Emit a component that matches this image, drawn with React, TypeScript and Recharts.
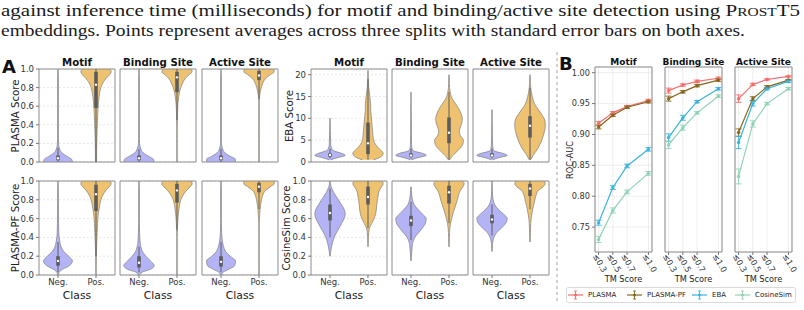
import React from 'react';
import {
  ComposedChart,
  Area,
  XAxis,
  YAxis,
  CartesianGrid,
  ReferenceLine,
  ReferenceDot,
  ReferenceArea,
  LineChart,
  Line,
  ErrorBar,
} from 'recharts';

// ---------- shared look ----------
const FONT = '"DejaVu Sans", sans-serif';
const SERIF = 'Liberation Serif';
const NEG_FILL = '#b3b3f5';
const POS_FILL = '#eec271';
const EDGE = '#7d7d7d';
const BOX = '#5c5c5c';
const FRAME = '#8c8c8c';
const TICK_TEXT = '#333';

// ---------- panel A: violin profiles (half-widths, category spacing = 1) ----------
const CLASS_LABELS = ['Neg.', 'Pos.'];
const TASKS = ['Motif', 'Binding Site', 'Active Site'];

const SCORE_LEVELS = [0, 0.03, 0.06, 0.1, 0.15, 0.2, 0.25, 0.3, 0.35, 0.4, 0.45, 0.5, 0.55, 0.6, 0.65, 0.7, 0.75, 0.8, 0.85, 0.9, 0.94, 0.97, 1.0];
const SCORE_TICKS = [0, 0.2, 0.4, 0.6, 0.8, 1.0];
const EBA_LEVELS = [0, 0.5, 1, 1.5, 2, 2.5, 3, 4, 5, 6, 7, 8, 9, 10, 11, 12, 13, 14, 15, 16, 17, 18, 19, 20, 21];
const EBA_TICKS = [0, 5, 10, 15, 20];

const PLASMA_MOTIF_NEG = [0.38, 0.36, 0.24, 0.1, 0.035, 0.015, 0.012, 0.01, 0.01, 0.01, 0.01, 0.01, 0.01, 0.01, 0.01, 0.01, 0.01, 0.01, 0.01, 0.01, 0.008, 0.006, 0.004];
const PLASMA_MOTIF_POS = [0.012, 0.015, 0.015, 0.015, 0.018, 0.02, 0.022, 0.025, 0.03, 0.035, 0.04, 0.045, 0.05, 0.06, 0.07, 0.08, 0.1, 0.13, 0.18, 0.27, 0.36, 0.4, 0.36];
const PLASMA_BIND_NEG = [0.4, 0.38, 0.26, 0.11, 0.04, 0.015, 0.01, 0.01, 0.01, 0.01, 0.01, 0.01, 0.01, 0.01, 0.01, 0.01, 0.01, 0.01, 0.01, 0.01, 0.008, 0.006, 0.004];
const PLASMA_BIND_POS = [0.006, 0.006, 0.006, 0.006, 0.006, 0.006, 0.006, 0.006, 0.006, 0.008, 0.01, 0.012, 0.015, 0.02, 0.03, 0.045, 0.065, 0.1, 0.15, 0.22, 0.32, 0.4, 0.37];
const PLASMA_ACT_NEG = [0.38, 0.38, 0.25, 0.1, 0.035, 0.012, 0.01, 0.01, 0.01, 0.01, 0.01, 0.01, 0.01, 0.01, 0.01, 0.01, 0.01, 0.01, 0.01, 0.01, 0.008, 0.006, 0.004];
const PLASMA_ACT_POS = [0.006, 0.006, 0.006, 0.006, 0.006, 0.006, 0.006, 0.006, 0.006, 0.006, 0.006, 0.006, 0.006, 0.006, 0.006, 0.012, 0.03, 0.06, 0.1, 0.18, 0.3, 0.4, 0.38];

const PF_MOTIF_NEG = [0.008, 0.03, 0.12, 0.3, 0.38, 0.28, 0.15, 0.08, 0.05, 0.03, 0.022, 0.018, 0.015, 0.013, 0.012, 0.012, 0.011, 0.01, 0.01, 0.01, 0.008, 0.006, 0.004];
const PF_MOTIF_POS = [0.005, 0.006, 0.006, 0.007, 0.008, 0.01, 0.012, 0.015, 0.02, 0.025, 0.03, 0.035, 0.04, 0.05, 0.06, 0.08, 0.1, 0.13, 0.18, 0.26, 0.35, 0.4, 0.37];
const PF_BIND_NEG = [0.01, 0.08, 0.3, 0.4, 0.3, 0.18, 0.09, 0.05, 0.03, 0.02, 0.015, 0.012, 0.01, 0.01, 0.01, 0.01, 0.01, 0.01, 0.01, 0.01, 0.008, 0.006, 0.004];
const PF_BIND_POS = [0.005, 0.005, 0.005, 0.005, 0.005, 0.005, 0.005, 0.005, 0.005, 0.005, 0.008, 0.012, 0.018, 0.025, 0.035, 0.05, 0.07, 0.1, 0.16, 0.25, 0.35, 0.4, 0.38];
const PF_ACT_NEG = [0.01, 0.06, 0.2, 0.36, 0.38, 0.24, 0.12, 0.07, 0.04, 0.025, 0.018, 0.014, 0.01, 0.01, 0.01, 0.01, 0.01, 0.01, 0.01, 0.01, 0.008, 0.006, 0.004];
const PF_ACT_POS = [0.005, 0.005, 0.005, 0.005, 0.005, 0.005, 0.005, 0.005, 0.005, 0.005, 0.005, 0.005, 0.005, 0.012, 0.02, 0.03, 0.045, 0.065, 0.1, 0.17, 0.3, 0.4, 0.4];

const COS_MOTIF_NEG = [null, null, null, null, null, 0.005, 0.02, 0.04, 0.07, 0.11, 0.17, 0.24, 0.31, 0.37, 0.4, 0.37, 0.3, 0.22, 0.14, 0.07, 0.03, 0.012, 0.004];
const COS_MOTIF_POS = [null, null, null, null, null, null, null, 0.005, 0.008, 0.012, 0.02, 0.04, 0.1, 0.16, 0.2, 0.22, 0.23, 0.25, 0.27, 0.3, 0.36, 0.4, 0.37];
const COS_BIND_NEG = [null, null, null, null, 0.005, 0.01, 0.02, 0.03, 0.05, 0.1, 0.2, 0.3, 0.38, 0.4, 0.3, 0.18, 0.08, 0.04, 0.02, 0.01, 0.005, null, null];
const COS_BIND_POS = [null, null, null, null, null, null, null, 0.005, 0.008, 0.01, 0.015, 0.022, 0.04, 0.07, 0.1, 0.14, 0.18, 0.22, 0.25, 0.3, 0.37, 0.4, 0.36];
const COS_ACT_NEG = [null, null, null, null, null, null, 0.005, 0.01, 0.02, 0.05, 0.12, 0.25, 0.36, 0.4, 0.3, 0.16, 0.07, 0.03, 0.015, 0.01, 0.008, 0.006, 0.004];
const COS_ACT_POS = [null, null, null, null, null, null, null, null, 0.005, 0.008, 0.01, 0.015, 0.02, 0.03, 0.05, 0.07, 0.1, 0.13, 0.16, 0.22, 0.35, 0.4, 0.37];

const EBA_MOTIF_NEG = [null, 0.02, 0.2, 0.4, 0.3, 0.12, 0.05, 0.02, 0.015, 0.012, 0.01, 0.008, 0.006, 0.004, null, null, null, null, null, null, null, null, null, null, null];
const EBA_MOTIF_POS = [null, 0.15, 0.3, 0.38, 0.4, 0.36, 0.3, 0.2, 0.15, 0.13, 0.12, 0.11, 0.1, 0.09, 0.08, 0.07, 0.07, 0.06, 0.05, 0.035, 0.02, 0.012, 0.008, 0.005, 0.003];
const EBA_BIND_NEG = [null, 0.02, 0.18, 0.4, 0.3, 0.08, 0.03, 0.015, 0.012, 0.011, 0.01, 0.01, 0.009, 0.008, 0.007, 0.006, 0.005, 0.004, 0.004, 0.003, null, null, null, null, null];
const EBA_BIND_POS = [null, 0.02, 0.06, 0.1, 0.16, 0.22, 0.28, 0.36, 0.38, 0.3, 0.27, 0.3, 0.34, 0.35, 0.32, 0.27, 0.2, 0.12, 0.06, 0.03, 0.015, 0.01, 0.006, 0.003, null];
const EBA_ACT_NEG = [null, 0.02, 0.18, 0.4, 0.28, 0.07, 0.03, 0.015, 0.012, 0.01, 0.009, 0.008, 0.007, 0.006, 0.005, 0.004, null, null, null, null, null, null, null, null, null];
const EBA_ACT_POS = [null, 0.02, 0.05, 0.08, 0.12, 0.16, 0.2, 0.26, 0.31, 0.35, 0.38, 0.4, 0.4, 0.37, 0.3, 0.22, 0.14, 0.09, 0.06, 0.035, 0.02, 0.012, 0.008, 0.004, null];

// box inner: [whisker low, q1, median, q3, whisker high]
const PLASMA_BOX_NEG = [[0, 0.02, 0.04, 0.07, 0.15], [0, 0.02, 0.04, 0.07, 0.14], [0, 0.02, 0.04, 0.07, 0.14]];
const PLASMA_BOX_POS = [[0, 0.58, 0.83, 0.97, 1.0], [0.45, 0.75, 0.91, 0.97, 1.0], [0.68, 0.88, 0.93, 0.98, 1.0]];
const PF_BOX_NEG = [[0.03, 0.1, 0.15, 0.2, 0.35], [0.03, 0.08, 0.13, 0.2, 0.3], [0.03, 0.09, 0.14, 0.2, 0.35]];
const PF_BOX_POS = [[0.2, 0.68, 0.86, 0.96, 1.0], [0.48, 0.77, 0.9, 0.97, 1.0], [0.7, 0.88, 0.94, 0.98, 1.0]];
const COS_BOX_NEG = [[0.4, 0.58, 0.66, 0.75, 0.92], [0.37, 0.52, 0.58, 0.63, 0.78], [0.42, 0.55, 0.59, 0.64, 0.75]];
const COS_BOX_POS = [[0.5, 0.75, 0.83, 0.94, 1.0], [0.55, 0.76, 0.88, 0.95, 1.0], [0.7, 0.84, 0.92, 0.97, 1.0]];
const EBA_BOX_NEG = [[0.8, 1.2, 1.6, 2.0, 3.0], [0.8, 1.2, 1.5, 2.0, 3.0], [0.8, 1.2, 1.5, 2.0, 3.0]];
const EBA_BOX_POS = [[0.5, 1.8, 4.3, 9.0, 19], [0.5, 4.3, 6.7, 10.2, 16], [0.5, 5.6, 8.3, 10.5, 17]];

// ---------- panel B: ROC-AUC vs TM-score threshold ----------
const TM_THRESHOLDS = [0.3, 0.5, 0.7, 1.0];
const AUC_TICKS = [0.75, 0.8, 0.85, 0.9, 0.95, 1.0];

const MOTIF_PLASMA = [0.918, 0.935, 0.945, 0.955];
const MOTIF_PF = [0.912, 0.931, 0.944, 0.953];
const MOTIF_EBA = [0.757, 0.814, 0.849, 0.876];
const MOTIF_COS = [0.73, 0.777, 0.807, 0.837];
const BIND_PLASMA = [0.971, 0.98, 0.986, 0.991];
const BIND_PF = [0.958, 0.969, 0.979, 0.988];
const BIND_EBA = [0.895, 0.927, 0.953, 0.974];
const BIND_COS = [0.883, 0.911, 0.935, 0.962];
const ACT_PLASMA = [0.958, 0.981, 0.989, 0.994];
const ACT_PF = [0.903, 0.958, 0.977, 0.988];
const ACT_EBA = [0.887, 0.95, 0.974, 0.986];
const ACT_COS = [0.832, 0.917, 0.95, 0.974];

const MOTIF_ERR = [[0.003, 0.002, 0.002, 0.002], [0.003, 0.002, 0.002, 0.002], [0.004, 0.003, 0.003, 0.003], [0.005, 0.004, 0.003, 0.003]];
const BIND_ERR = [[0.004, 0.002, 0.002, 0.002], [0.004, 0.002, 0.002, 0.002], [0.006, 0.004, 0.002, 0.002], [0.006, 0.004, 0.002, 0.002]];
const ACT_ERR = [[0.006, 0.002, 0.001, 0.001], [0.006, 0.003, 0.002, 0.001], [0.01, 0.004, 0.002, 0.002], [0.012, 0.005, 0.002, 0.002]];

const METHODS = [
  { key: 'plasma', name: 'PLASMA', color: '#f96b6b' },
  { key: 'pf', name: 'PLASMA-PF', color: '#86681c' },
  { key: 'eba', name: 'EBA', color: '#3bb3db' },
  { key: 'cos', name: 'CosineSim', color: '#8fd3b5' },
];

function aucRows(series: number[][], errs: number[][]) {
  return TM_THRESHOLDS.map((tm, i) => {
    const row: Record<string, number> = { tm };
    METHODS.forEach((m, k) => {
      row[m.key] = series[k][i];
      row[m.key + 'Err'] = errs[k][i];
    });
    return row;
  });
}

const AUC_ROWS = [
  aucRows([MOTIF_PLASMA, MOTIF_PF, MOTIF_EBA, MOTIF_COS], MOTIF_ERR),
  aucRows([BIND_PLASMA, BIND_PF, BIND_EBA, BIND_COS], BIND_ERR),
  aucRows([ACT_PLASMA, ACT_PF, ACT_EBA, ACT_COS], ACT_ERR),
];

// ---------- layout ----------
const A_LEFT_X = [39, 120, 202];
const A_MID_X = [311, 392, 473];
const A_W = 76;
const A_TOP_Y = 69;
const A_TOP_H = 93;
const A_BOT_Y = 181;
const A_BOT_H = 94;
const B_X = [595, 665, 735];
const B_W = 57;
const B_Y = 67;
const B_H = 185;
const PAD = 6;
const B_RIGHT = 12;

type ViolinProps = {
  left: number;
  top: number;
  width: number;
  height: number;
  levels: number[];
  neg: (number | null)[];
  pos: (number | null)[];
  negBox: number[];
  posBox: number[];
  domain: [number, number];
  ticks: number[];
  yLabels: boolean;
  xLabels: boolean;
  fmt: (v: number) => string;
};

// symmetric band around a class position; absent levels break the outline
const band = (c: number, w: number | null) => (w == null ? [null, null] : [c - w, c + w]);

function ViolinCell(p: ViolinProps) {
  const yW = p.yLabels ? 30 : 4;
  const xH = p.xLabels ? 16 : 4;
  const rows = p.levels.map((y, i) => ({ y, neg: p.neg[i], pos: p.pos[i] }));
  const inner = (x: number, s: number[], k: string) => [
    <ReferenceLine key={k + 'w'} segment={[{ x, y: s[0] }, { x, y: s[4] }]} stroke={BOX} strokeWidth={1} />,
    <ReferenceLine key={k + 'b'} segment={[{ x, y: s[1] }, { x, y: s[3] }]} stroke={BOX} strokeWidth={3.6} />,
    <ReferenceDot key={k + 'm'} x={x} y={s[2]} r={1.2} fill="#ffffff" stroke="none" />,
  ];
  return (
    <div style={{ position: 'absolute', left: p.left - yW, top: p.top - PAD }}>
      <ComposedChart
        layout="vertical"
        width={yW + p.width + 2}
        height={p.height + xH + PAD}
        data={rows}
        margin={{ top: PAD, right: 2, bottom: 0, left: 0 }}
      >
        <CartesianGrid vertical={false} stroke="#dcdcdc" strokeDasharray="2 2" strokeWidth={0.7} />
        <XAxis
          type="number"
          domain={[-0.5, 1.5]}
          ticks={[0, 1]}
          allowDataOverflow
          height={xH}
          axisLine={false}
          tickSize={3}
          tickMargin={1}
          tickLine={{ stroke: '#777' }}
          tick={p.xLabels ? { fontSize: 8.5, fill: TICK_TEXT, fontFamily: FONT } : false}
          tickFormatter={(v: number) => CLASS_LABELS[v]}
          interval={0}
        />
        <YAxis
          type="number"
          dataKey="y"
          domain={p.domain}
          ticks={p.ticks}
          reversed
          allowDataOverflow
          width={yW}
          axisLine={false}
          tickSize={3}
          tickMargin={2}
          tickLine={{ stroke: '#777' }}
          tick={p.yLabels ? { fontSize: 8.5, fill: TICK_TEXT, fontFamily: FONT } : false}
          tickFormatter={p.fmt}
          interval={0}
        />
        <Area
          dataKey={(r: any) => band(0, r.neg)}
          type="monotone"
          fill={NEG_FILL}
          fillOpacity={1}
          stroke={EDGE}
          strokeWidth={0.7}
          isAnimationActive={false}
          activeDot={false}
          dot={false}
        />
        <Area
          dataKey={(r: any) => band(1, r.pos)}
          type="monotone"
          fill={POS_FILL}
          fillOpacity={1}
          stroke={EDGE}
          strokeWidth={0.7}
          isAnimationActive={false}
          activeDot={false}
          dot={false}
        />
        {inner(0, p.negBox, 'n')}
        {inner(1, p.posBox, 'p')}
        <ReferenceArea
          x1={-0.5}
          x2={1.5}
          y1={p.domain[0]}
          y2={p.domain[1]}
          fill="none"
          fillOpacity={0}
          stroke={FRAME}
          strokeWidth={1}
          ifOverflow="visible"
        />
      </ComposedChart>
    </div>
  );
}

function TmTick(props: any) {
  const { x, y, payload } = props;
  return (
    <text
      transform={`translate(${x + 1.5},${y + 6}) rotate(60)`}
      textAnchor="middle"
      dominantBaseline="central"
      fontSize={8.2}
      fill={TICK_TEXT}
      fontFamily={FONT}
    >
      {'\u2264' + Number(payload.value).toFixed(1)}
    </text>
  );
}

function AucCell({ left, rows, yLabels }: { left: number; rows: any[]; yLabels: boolean }) {
  const yW = yLabels ? 30 : 4;
  const xH = 26;
  return (
    <div style={{ position: 'absolute', left: left - yW, top: B_Y - PAD }}>
      <LineChart
        width={yW + B_W + B_RIGHT}
        height={B_H + xH + PAD}
        data={rows}
        margin={{ top: PAD, right: B_RIGHT, bottom: 0, left: 0 }}
      >
        <CartesianGrid stroke="#e6e6e6" strokeWidth={0.7} />
        <XAxis
          type="number"
          dataKey="tm"
          domain={[0.25, 1.05]}
          ticks={TM_THRESHOLDS}
          allowDataOverflow
          height={xH}
          axisLine={false}
          tickSize={3}
          tickLine={{ stroke: '#777' }}
          tick={<TmTick />}
          interval={0}
        />
        <YAxis
          type="number"
          domain={[0.7097, 1.0092]}
          ticks={AUC_TICKS}
          allowDataOverflow
          width={yW}
          axisLine={false}
          tickSize={3}
          tickMargin={2}
          tickLine={{ stroke: '#777' }}
          tick={yLabels ? { fontSize: 8.2, fill: TICK_TEXT, fontFamily: FONT } : false}
          tickFormatter={(v: number) => v.toFixed(2)}
          interval={0}
        />
        {METHODS.map((m) => (
          <Line
            key={m.key}
            dataKey={m.key}
            stroke={m.color}
            strokeWidth={1.2}
            dot={{ r: 1.5, fill: m.color, stroke: m.color, strokeWidth: 0.5 }}
            activeDot={false}
            isAnimationActive={false}
          >
            <ErrorBar dataKey={m.key + 'Err'} width={3} stroke={m.color} strokeWidth={0.9} direction="y" />
          </Line>
        ))}
        <ReferenceArea
          x1={0.25}
          x2={1.05}
          y1={0.7097}
          y2={1.0092}
          fill="none"
          fillOpacity={0}
          stroke={FRAME}
          strokeWidth={1}
          ifOverflow="visible"
        />
      </LineChart>
    </div>
  );
}

const scoreFmt = (v: number) => v.toFixed(1);
const ebaFmt = (v: number) => String(v);

const LEFT_TOP = [
  [PLASMA_MOTIF_NEG, PLASMA_MOTIF_POS],
  [PLASMA_BIND_NEG, PLASMA_BIND_POS],
  [PLASMA_ACT_NEG, PLASMA_ACT_POS],
];
const LEFT_BOT = [
  [PF_MOTIF_NEG, PF_MOTIF_POS],
  [PF_BIND_NEG, PF_BIND_POS],
  [PF_ACT_NEG, PF_ACT_POS],
];
const MID_TOP = [
  [EBA_MOTIF_NEG, EBA_MOTIF_POS],
  [EBA_BIND_NEG, EBA_BIND_POS],
  [EBA_ACT_NEG, EBA_ACT_POS],
];
const MID_BOT = [
  [COS_MOTIF_NEG, COS_MOTIF_POS],
  [COS_BIND_NEG, COS_BIND_POS],
  [COS_ACT_NEG, COS_ACT_POS],
];

function Legend() {
  const items = [
    { x: 568, t: 588 },
    { x: 627, t: 647 },
    { x: 692, t: 712 },
    { x: 735, t: 755 },
  ];
  return (
    <g>
      <rect x={566.5} y={287.5} width={229} height={15} rx={2} fill="#fff" stroke="#d0d0d0" strokeWidth={0.8} />
      {METHODS.map((m, i) => (
        <g key={m.key}>
          <line x1={items[i].x} x2={items[i].x + 15} y1={295} y2={295} stroke={m.color} strokeWidth={1.2} />
          <line x1={items[i].x + 7.5} x2={items[i].x + 7.5} y1={291} y2={299} stroke={m.color} strokeWidth={0.9} />
          <line x1={items[i].x + 6} x2={items[i].x + 9} y1={291} y2={291} stroke={m.color} strokeWidth={0.9} />
          <line x1={items[i].x + 6} x2={items[i].x + 9} y1={299} y2={299} stroke={m.color} strokeWidth={0.9} />
          <circle cx={items[i].x + 7.5} cy={295} r={1.5} fill={m.color} />
          <text x={items[i].t} y={295} dominantBaseline="central" fontSize={7} fill="#222" fontFamily={FONT}>
            {m.name}
          </text>
        </g>
      ))}
    </g>
  );
}

export default function App() {
  return (
    <div style={{ position: 'absolute', left: 0, top: 0, width: 804, height: 310, background: '#fff', overflow: 'hidden' }}>
      {LEFT_TOP.map((v, i) => (
        <ViolinCell key={'lt' + i} left={A_LEFT_X[i]} top={A_TOP_Y} width={A_W} height={A_TOP_H} levels={SCORE_LEVELS}
          neg={v[0]} pos={v[1]} negBox={PLASMA_BOX_NEG[i]} posBox={PLASMA_BOX_POS[i]} domain={[0, 1]} ticks={SCORE_TICKS}
          yLabels={i === 0} xLabels={false} fmt={scoreFmt} />
      ))}
      {LEFT_BOT.map((v, i) => (
        <ViolinCell key={'lb' + i} left={A_LEFT_X[i]} top={A_BOT_Y} width={A_W} height={A_BOT_H} levels={SCORE_LEVELS}
          neg={v[0]} pos={v[1]} negBox={PF_BOX_NEG[i]} posBox={PF_BOX_POS[i]} domain={[0, 1]} ticks={SCORE_TICKS}
          yLabels={i === 0} xLabels fmt={scoreFmt} />
      ))}
      {MID_TOP.map((v, i) => (
        <ViolinCell key={'mt' + i} left={A_MID_X[i]} top={A_TOP_Y} width={A_W} height={A_TOP_H} levels={EBA_LEVELS}
          neg={v[0]} pos={v[1]} negBox={EBA_BOX_NEG[i]} posBox={EBA_BOX_POS[i]} domain={[0, 21.3]} ticks={EBA_TICKS}
          yLabels={i === 0} xLabels={false} fmt={ebaFmt} />
      ))}
      {MID_BOT.map((v, i) => (
        <ViolinCell key={'mb' + i} left={A_MID_X[i]} top={A_BOT_Y} width={A_W} height={A_BOT_H} levels={SCORE_LEVELS}
          neg={v[0]} pos={v[1]} negBox={COS_BOX_NEG[i]} posBox={COS_BOX_POS[i]} domain={[0, 1]} ticks={SCORE_TICKS}
          yLabels={i === 0} xLabels fmt={scoreFmt} />
      ))}
      {AUC_ROWS.map((rows, i) => (
        <AucCell key={'b' + i} left={B_X[i]} rows={rows} yLabels={i === 0} />
      ))}

      <svg width={804} height={310} style={{ position: 'absolute', left: 0, top: 0, pointerEvents: 'none' }}>
        <text x={1} y={15.5} style={{ fontFamily: SERIF }} fontSize={17} fill="#1a1a1a" textLength={799} lengthAdjust="spacingAndGlyphs">
          against inference time (milliseconds) for motif and binding/active site detection using P
          <tspan fontSize={12.5}>ROST</tspan>T5
        </text>
        <text x={1} y={35.5} style={{ fontFamily: SERIF }} fontSize={17} fill="#1a1a1a" textLength={744} lengthAdjust="spacingAndGlyphs">
          embeddings. Points represent averages across three splits with standard error bars on both axes.
        </text>

        <text x={2} y={73} fontFamily={FONT} fontWeight="bold" fontSize={18} fill="#111">A</text>
        <text x={559} y={70} fontFamily={FONT} fontWeight="bold" fontSize={18} fill="#111">B</text>

        <line x1={557} x2={557} y1={52} y2={302} stroke="#bdbdbd" strokeWidth={1.4} strokeDasharray="3 3" />

        {TASKS.map((t, i) => (
          <g key={'tt' + i}>
            <text x={A_LEFT_X[i] + A_W / 2} y={62} textAnchor="middle" dominantBaseline="central" fontFamily={FONT} fontWeight="bold" fontSize={10.2} fill="#111">{t}</text>
            <text x={A_MID_X[i] + A_W / 2} y={62} textAnchor="middle" dominantBaseline="central" fontFamily={FONT} fontWeight="bold" fontSize={10.2} fill="#111">{t}</text>
            <text x={B_X[i] + B_W / 2} y={62} textAnchor="middle" dominantBaseline="central" fontFamily={FONT} fontWeight="bold" fontSize={9} fill="#111">{t}</text>
            <text x={A_LEFT_X[i] + A_W / 2} y={295} textAnchor="middle" dominantBaseline="central" fontFamily={FONT} fontSize={10.8} fill="#222">Class</text>
            <text x={A_MID_X[i] + A_W / 2} y={295} textAnchor="middle" dominantBaseline="central" fontFamily={FONT} fontSize={10.8} fill="#222">Class</text>
            <text x={B_X[i] + B_W / 2} y={279} textAnchor="middle" dominantBaseline="central" fontFamily={FONT} fontSize={8.2} fill="#222">TM Score</text>
          </g>
        ))}

        <text transform="translate(15,116) rotate(-90)" textAnchor="middle" dominantBaseline="central" fontFamily={FONT} fontSize={10.2} fill="#222">PLASMA Score</text>
        <text transform="translate(15,228) rotate(-90)" textAnchor="middle" dominantBaseline="central" fontFamily={FONT} fontSize={10.2} fill="#222">PLASMA-PF Score</text>
        <text transform="translate(289,116) rotate(-90)" textAnchor="middle" dominantBaseline="central" fontFamily={FONT} fontSize={10.2} fill="#222">EBA Score</text>
        <text transform="translate(286,228) rotate(-90)" textAnchor="middle" dominantBaseline="central" fontFamily={FONT} fontSize={10.2} fill="#222">CosineSim Score</text>
        <text transform="translate(570,160) rotate(-90)" textAnchor="middle" dominantBaseline="central" fontFamily={FONT} fontSize={8.2} fill="#222">ROC-AUC</text>

        <Legend />
      </svg>
    </div>
  );
}
